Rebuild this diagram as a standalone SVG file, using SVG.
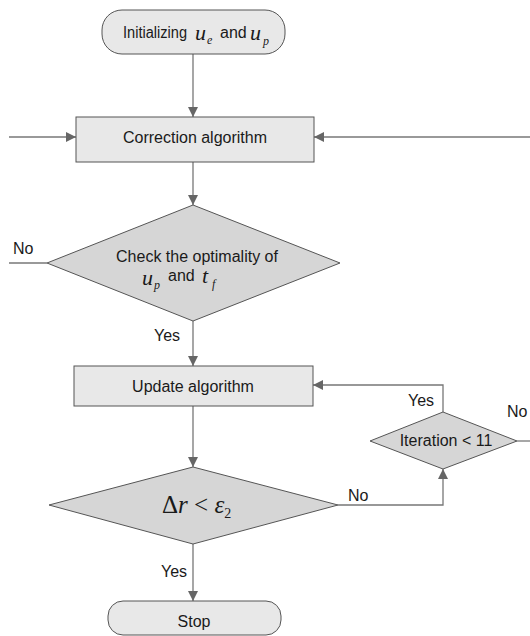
<svg xmlns="http://www.w3.org/2000/svg" width="530" height="636" viewBox="0 0 530 636">
<style>
.t{font-family:"Liberation Sans",Arial,sans-serif;font-size:16px;fill:#1a1a1a}
.m{font-family:"Liberation Serif","Times New Roman",serif;font-style:italic;fill:#1a1a1a}
.box{fill:#e8e8e8;stroke:#555;stroke-width:1}
.dia{fill:#d6d6d6;stroke:#555;stroke-width:1}
.ln{fill:none;stroke:#777;stroke-width:1.3}
</style>
<defs>
<marker id="ah" viewBox="0 0 10 10" refX="10" refY="5" markerWidth="10" markerHeight="10" markerUnits="userSpaceOnUse" orient="auto">
<path d="M0,0 L10,5 L0,10 z" fill="#666"/>
</marker>
</defs>
<g id="connectors">
<line class="ln" x1="193" y1="54" x2="193" y2="117" marker-end="url(#ah)"/>
<line class="ln" x1="9" y1="137" x2="76" y2="137" marker-end="url(#ah)"/>
<line class="ln" x1="530" y1="137" x2="314" y2="137" marker-end="url(#ah)"/>
<line class="ln" x1="193" y1="162" x2="193" y2="205" marker-end="url(#ah)"/>
<line class="ln" x1="9" y1="263" x2="47" y2="263"/>
<line class="ln" x1="193" y1="321" x2="193" y2="366" marker-end="url(#ah)"/>
<polyline class="ln" points="443,412 443,385 313,385" marker-end="url(#ah)"/>
<line class="ln" x1="193" y1="406" x2="193" y2="467" marker-end="url(#ah)"/>
<polyline class="ln" points="338,505 443,505 443,469" marker-end="url(#ah)"/>
<line class="ln" x1="517" y1="441" x2="530" y2="441"/>
<line class="ln" x1="193" y1="544" x2="193" y2="601" marker-end="url(#ah)"/>
<text class="t" x="13" y="254">No</text>
<text class="t" x="154" y="341">Yes</text>
<text class="t" x="348" y="501">No</text>
<text class="t" x="408" y="406">Yes</text>
<text class="t" x="507" y="417">No</text>
<text class="t" x="161" y="577">Yes</text>
</g>
<g id="start">
<rect class="box" x="102" y="10" width="183" height="44" rx="20" ry="20"/>
<text class="t" x="123" y="38" textLength="64" lengthAdjust="spacingAndGlyphs">Initializing</text>
<text class="m" x="195" y="40" font-size="22">u</text>
<text class="m" x="207" y="44" font-size="12">e</text>
<text class="t" x="220" y="38">and</text>
<text class="m" x="250" y="40" font-size="22">u</text>
<text class="m" x="263" y="45" font-size="12">p</text>
</g>
<g id="correction">
<rect class="box" x="76" y="117" width="238" height="45"/>
<text class="t" x="195" y="143" text-anchor="middle">Correction algorithm</text>
</g>
<g id="check">
<polygon class="dia" points="193,205 340,263 193,321 47,263"/>
<text class="t" x="197" y="262" text-anchor="middle">Check the optimality of</text>
<text class="m" x="142" y="285" font-size="22">u</text>
<text class="m" x="154" y="289" font-size="12">p</text>
<text class="t" x="168" y="281">and</text>
<text class="m" x="202" y="283" font-size="22">t</text>
<text class="m" x="212" y="288" font-size="12">f</text>
</g>
<g id="update">
<rect class="box" x="74" y="366" width="239" height="40"/>
<text class="t" x="193" y="392" text-anchor="middle">Update algorithm</text>
</g>
<g id="iteration">
<polygon class="dia" points="443,412 517,441 443,469 370,441"/>
<text class="t" x="446" y="446" text-anchor="middle">Iteration &lt; 11</text>
</g>
<g id="delta">
<polygon class="dia" points="193,467 338,505 193,544 49,505"/>
<text x="162" y="513" font-family="'Liberation Serif','Times New Roman',serif" font-size="25" fill="#1a1a1a">Δ<tspan font-style="italic">r</tspan> &lt; <tspan font-style="italic">ε</tspan><tspan font-size="14" dy="5">2</tspan></text>
</g>
<g id="stop">
<rect class="box" x="108" y="601" width="173" height="34" rx="15" ry="15"/>
<text class="t" x="194" y="627" text-anchor="middle">Stop</text>
</g>
</svg>
